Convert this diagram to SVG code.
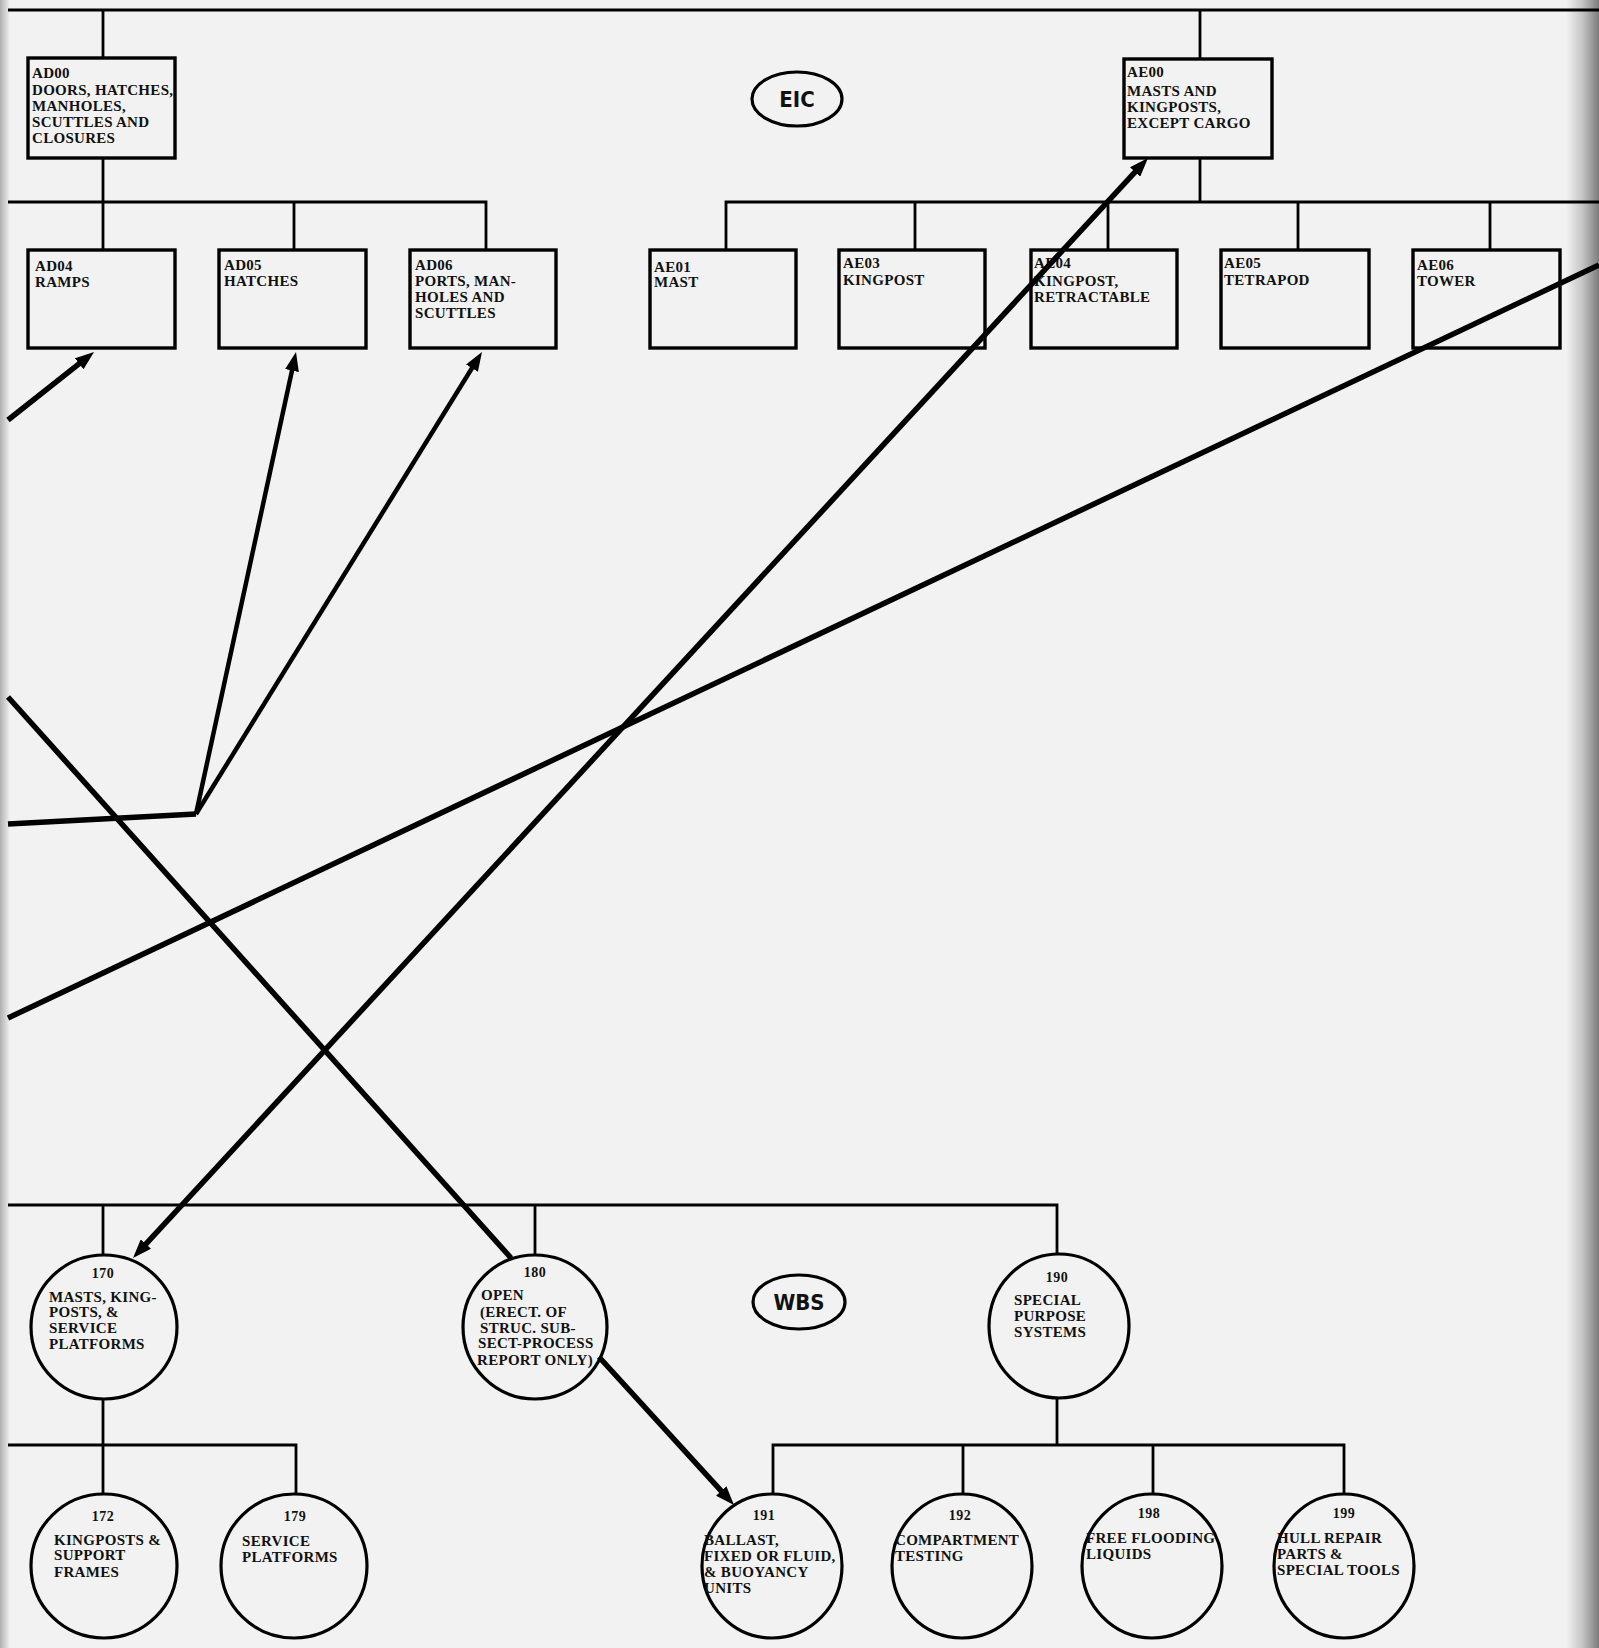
<svg xmlns="http://www.w3.org/2000/svg" width="1599" height="1648" viewBox="0 0 1599 1648">
<defs>
<linearGradient id="gl" x1="0" y1="0" x2="1" y2="0"><stop offset="0" stop-color="#b0b0b0"/><stop offset="1" stop-color="#f2f2f2"/></linearGradient>
<linearGradient id="gr" x1="0" y1="0" x2="1" y2="0"><stop offset="0" stop-color="#f2f2f2"/><stop offset="0.5" stop-color="#c4c4c4"/><stop offset="1" stop-color="#7c7c7c"/></linearGradient>
<marker id="ah" markerUnits="userSpaceOnUse" markerWidth="19" markerHeight="14" viewBox="0 0 19 14" refX="9" refY="7" orient="auto-start-reverse"><path d="M0,0 L19,7 L0,14 z" fill="#000"/></marker>
</defs>
<style>
.tree{stroke:#000;stroke-width:2.8;fill:none}
.box{stroke:#000;stroke-width:3.4;fill:none}
.node{stroke:#000;stroke-width:3.2;fill:none}
.con{stroke:#000;stroke-width:5.5;fill:none;stroke-linecap:butt}
.con2{stroke:#000;stroke-width:4.5;fill:none}
text{font-family:"Liberation Serif","Times New Roman",serif;font-weight:bold;font-size:15px;letter-spacing:0.3px;fill:#111}
.num{font-size:14px;letter-spacing:0.5px;text-anchor:middle}
.tag{font-family:"DejaVu Sans Condensed","DejaVu Sans","Liberation Sans",sans-serif;font-size:22px;font-weight:bold;letter-spacing:0;text-anchor:middle}
</style>
<rect x="0" y="0" width="1599" height="1648" fill="#f2f2f2"/>
<rect x="0" y="0" width="10" height="1648" fill="url(#gl)"/>
<rect x="1566" y="0" width="33" height="1648" fill="url(#gr)"/>

<g id="tree-lines">
<path class="tree" d="M8,10 H1599"/>
<path class="tree" d="M103,10 V58 M1200,10 V59"/>
<path class="tree" d="M103,158 V250 M1200,158 V202"/>
<path class="tree" d="M8,202 H486 V250 M294,202 V250"/>
<path class="tree" d="M1599,202 H726 V250 M915,202 V250 M1108,202 V250 M1298,202 V250 M1490,202 V250"/>
<path class="tree" d="M8,1205 H1057 V1254 M103,1205 V1256 M535,1205 V1255"/>
<path class="tree" d="M103,1399 V1494 M8,1445 H296 V1494"/>
<path class="tree" d="M1057,1398 V1445 M773,1494 V1445 H1344 V1494 M963,1445 V1494 M1153,1445 V1494"/>
</g>

<g id="EIC"><ellipse class="node" cx="797" cy="99" rx="45" ry="27"/><text class="tag" x="797" y="107">EIC</text></g>
<g id="WBS"><ellipse class="node" cx="799" cy="1302" rx="46" ry="27"/><text class="tag" x="799" y="1310">WBS</text></g>

<g id="AD00"><rect class="box" x="28" y="58" width="147" height="100"/>
<text x="32" y="78">AD00</text><text x="32" y="95">DOORS, HATCHES,</text><text x="32" y="111">MANHOLES,</text><text x="32" y="127">SCUTTLES AND</text><text x="32" y="143">CLOSURES</text></g>
<g id="AE00"><rect class="box" x="1124" y="59" width="148" height="99"/>
<text x="1127" y="77">AE00</text><text x="1127" y="96">MASTS AND</text><text x="1127" y="112">KINGPOSTS,</text><text x="1127" y="128">EXCEPT CARGO</text></g>

<g id="AD04"><rect class="box" x="28" y="250" width="147" height="98"/><text x="35" y="271">AD04</text><text x="35" y="287">RAMPS</text></g>
<g id="AD05"><rect class="box" x="219" y="250" width="147" height="98"/><text x="224" y="270">AD05</text><text x="224" y="286">HATCHES</text></g>
<g id="AD06"><rect class="box" x="410" y="250" width="146" height="98"/><text x="415" y="270">AD06</text><text x="415" y="286">PORTS, MAN-</text><text x="415" y="302">HOLES AND</text><text x="415" y="318">SCUTTLES</text></g>
<g id="AE01"><rect class="box" x="650" y="250" width="146" height="98"/><text x="654" y="272">AE01</text><text x="654" y="287">MAST</text></g>
<g id="AE03"><rect class="box" x="839" y="250" width="146" height="98"/><text x="843" y="268">AE03</text><text x="843" y="285">KINGPOST</text></g>
<g id="AE04"><rect class="box" x="1031" y="250" width="146" height="98"/><text x="1034" y="268">AE04</text><text x="1034" y="286">KINGPOST,</text><text x="1034" y="302">RETRACTABLE</text></g>
<g id="AE05"><rect class="box" x="1221" y="250" width="148" height="98"/><text x="1224" y="268">AE05</text><text x="1224" y="285">TETRAPOD</text></g>
<g id="AE06"><rect class="box" x="1413" y="250" width="147" height="98"/><text x="1417" y="270">AE06</text><text x="1417" y="286">TOWER</text></g>

<g id="W170"><ellipse class="node" cx="104" cy="1327" rx="73" ry="72"/><text class="num" x="103" y="1278">170</text>
<text x="49" y="1302">MASTS, KING-</text><text x="49" y="1317">POSTS, &amp;</text><text x="49" y="1333">SERVICE</text><text x="49" y="1349">PLATFORMS</text></g>
<g id="W180"><ellipse class="node" cx="535" cy="1327" rx="72" ry="72"/><text class="num" x="535" y="1277">180</text>
<text x="481" y="1300">OPEN</text><text x="480" y="1317">(ERECT. OF</text><text x="480" y="1333">STRUC. SUB-</text><text x="478" y="1348">SECT-PROCESS</text><text x="477" y="1365">REPORT ONLY)</text></g>
<g id="W190"><ellipse class="node" cx="1059" cy="1326" rx="70" ry="72"/><text class="num" x="1057" y="1282">190</text>
<text x="1014" y="1305">SPECIAL</text><text x="1014" y="1321">PURPOSE</text><text x="1014" y="1337">SYSTEMS</text></g>
<g id="W172"><ellipse class="node" cx="104" cy="1566" rx="73" ry="72"/><text class="num" x="103" y="1521">172</text>
<text x="54" y="1545">KINGPOSTS &amp;</text><text x="54" y="1560">SUPPORT</text><text x="54" y="1577">FRAMES</text></g>
<g id="W179"><ellipse class="node" cx="294" cy="1566" rx="73" ry="72"/><text class="num" x="295" y="1521">179</text>
<text x="242" y="1546">SERVICE</text><text x="242" y="1562">PLATFORMS</text></g>
<g id="W191"><ellipse class="node" cx="772" cy="1566" rx="70" ry="72"/><text class="num" x="764" y="1520">191</text>
<text x="704" y="1545">BALLAST,</text><text x="704" y="1561">FIXED OR FLUID,</text><text x="704" y="1577">&amp; BUOYANCY</text><text x="704" y="1593">UNITS</text></g>
<g id="W192"><ellipse class="node" cx="962" cy="1566" rx="70" ry="72"/><text class="num" x="960" y="1520">192</text>
<text x="895" y="1545">COMPARTMENT</text><text x="895" y="1561">TESTING</text></g>
<g id="W198"><ellipse class="node" cx="1152" cy="1566" rx="70" ry="72"/><text class="num" x="1149" y="1518">198</text>
<text x="1086" y="1543">FREE FLOODING</text><text x="1086" y="1559">LIQUIDS</text></g>
<g id="W199"><ellipse class="node" cx="1344" cy="1566" rx="70" ry="72"/><text class="num" x="1344" y="1518">199</text>
<text x="1277" y="1543">HULL REPAIR</text><text x="1277" y="1559">PARTS &amp;</text><text x="1277" y="1575">SPECIAL TOOLS</text></g>

<g id="connectors">
<path class="con" d="M8,420 L86.2,358.2" marker-end="url(#ah)"/>
<path class="con" d="M8,824 L196,814"/>
<path class="con2" d="M196,814 L293.9,361.8" marker-end="url(#ah)"/>
<path class="con2" d="M196,814 L476.7,360.5" marker-end="url(#ah)"/>
<path class="con" d="M8,697 L511,1258"/>
<path class="con" d="M139.8,1250.7 L1141.2,165.3" marker-start="url(#ah)" marker-end="url(#ah)"/>
<path class="con" d="M1599,265 L8,1018"/>
<path class="con" d="M599,1357 L727.3,1497.6" marker-end="url(#ah)"/>
</g>
</svg>
